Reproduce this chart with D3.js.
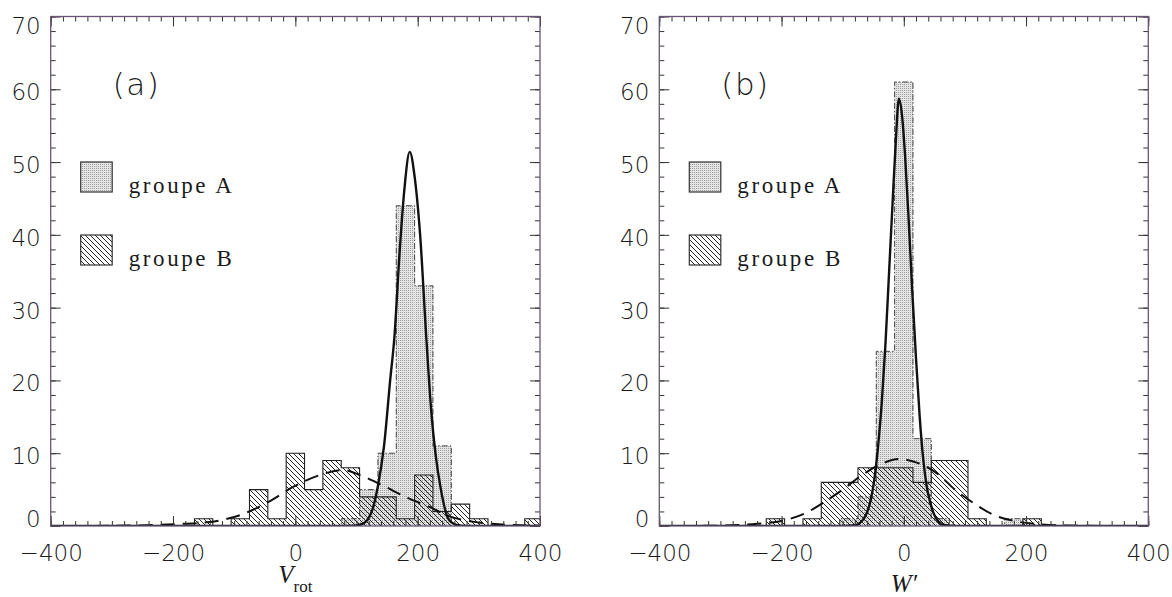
<!DOCTYPE html>
<html><head><meta charset="utf-8">
<script src="https://cdn.jsdelivr.net/npm/d3@7"></script>
<style>
html,body{margin:0;padding:0;background:#fff;}
svg{display:block;}
</style></head><body>
<svg id="chart" width="1172" height="597"></svg>
<script>
// ---------- DATA ----------
const binCenters = [-390,-360,-330,-300,-270,-240,-210,-180,-150,-120,-90,-60,-30,0,30,60,90,120,150,180,210,240,270,300,330,360,390];
const binWidth = 30;
// panel (a) V_rot
const vrotGroupA = [0,0,0,0,0,0,0,0,0,0,0,0,0,0,0,0,1,5,10,44,33,11,0,0,0,0,0];
const vrotGroupB = [0,0,0,0,0,0,0,0,1,0,1,5,1,10,5,9,8,4,4,1,7,2,3,1,0,0,1];
// panel (b) W'
const wGroupA = [0,0,0,0,0,0,0,0,0,0,1,4,24,61,12,1,0,0,0,1,0,0,0,0,0,0,0];
const wGroupB = [0,0,0,0,0,0,1,0,1,6,6,8,8,8,6,9,9,1,0,0,1,0,0,0,0,0,0];
// fitted curves
const vrotFitAx = [-400,90,110,125,135,145,155,162,170,178,187,195,204,214,222,229,238,250,262,280,400];
const vrotFitAy = [0,0,0.3,2,5.5,11,20,26,37,46,51.4,48,40,26,16,10,5,1,0.2,0,0];
const vrotFitBx = [-400,-300,-240,-190,-145,-90,-40,-3,40,78,108,142,180,220,250,290,340,400];
const vrotFitBy = [0,0.03,0.12,0.28,0.5,1.5,3.5,5.4,7.0,7.7,6.9,5.6,4.0,2.6,1.4,0.6,0.2,0.05];
const wFitAx = [-400,-95,-80,-72,-62,-54,-48,-42,-36,-30,-24,-18,-13,-8,-3,2,8,14,20,26,32,38,44,50,58,68,85,400];
const wFitAy = [0,0,0.1,0.4,1.5,3.6,6.5,11,17,25,35,45,53,58.7,56.5,51,42,32,23,15,9,5.2,3,1.5,0.5,0.1,0,0];
const wFitBx = [-400,-330,-280,-240,-200,-160,-130,-100,-70,-40,-8,25,55,85,115,145,180,220,260,320,400];
const wFitBy = [0,0.02,0.1,0.3,0.7,1.8,3.3,5.0,6.9,8.4,9.2,8.6,7.2,4.9,3.1,1.6,0.7,0.25,0.08,0.01,0];
// axes
const xDomain = [-400, 400];
const yDomain = [0, 70];
const xTicks = [-400,-200,0,200,400];
const yTicks = [0,10,20,30,40,50,60,70];
const legendLabels = ["groupe A", "groupe B"];
const panelLabels = ["(a)", "(b)"];

// ---------- DRAW ----------
const svg = d3.select("#chart");
const defs = svg.append("defs");
const st = defs.append("pattern").attr("id","stipple").attr("patternUnits","userSpaceOnUse")
  .attr("width",2).attr("height",2);
st.append("rect").attr("width",2).attr("height",2).attr("fill","#e4e4e4");
st.append("rect").attr("width",1).attr("height",1).attr("fill","#a0a0a0");
const ht = defs.append("pattern").attr("id","hatch").attr("patternUnits","userSpaceOnUse")
  .attr("width",5).attr("height",5);
ht.append("path").attr("d","M-1,-1 L6,6 M-1,4 L1,6 M4,-1 L6,1")
  .attr("stroke","#1a1a1a").attr("stroke-width",0.95).attr("fill","none");

const plotTop = 16.5, plotBottom = 526;
const panels = [
  {left:50.7, right:540, A:vrotGroupA, B:vrotGroupB, fAx:vrotFitAx, fAy:vrotFitAy, fBx:vrotFitBx, fBy:vrotFitBy, label:panelLabels[0]},
  {left:659.3, right:1148.3, A:wGroupA, B:wGroupB, fAx:wFitAx, fAy:wFitAy, fBx:wFitBx, fBy:wFitBy, label:panelLabels[1]}
];

const tickFont = "'DejaVu Sans', sans-serif";

panels.forEach((p, pi) => {
  const x = d3.scaleLinear().domain(xDomain).range([p.left, p.right]);
  const y = d3.scaleLinear().domain(yDomain).range([plotBottom, plotTop]);
  const g = svg.append("g");
  const clipId = "clip" + pi;
  defs.append("clipPath").attr("id", clipId).append("rect")
    .attr("x", p.left).attr("y", plotTop).attr("width", p.right - p.left).attr("height", plotBottom - plotTop);
  const plot = g.append("g").attr("clip-path", `url(#${clipId})`);

  const bins = arr => binCenters.map((c, i) => ({c, v: arr[i]}));
  const stepPts = arr => {
    const pts = [[binCenters[0] - binWidth/2, 0]];
    bins(arr).forEach(b => { pts.push([b.c - binWidth/2, b.v]); pts.push([b.c + binWidth/2, b.v]); });
    pts.push([binCenters[binCenters.length-1] + binWidth/2, 0]);
    return pts;
  };
  const line = d3.line().x(d => x(d[0])).y(d => y(d[1]));

  // group A fill + outline
  plot.selectAll("rect.a").data(bins(p.A).filter(b => b.v > 0)).join("rect").attr("class","a")
    .attr("x", b => x(b.c - binWidth/2)).attr("width", b => x(b.c + binWidth/2) - x(b.c - binWidth/2))
    .attr("y", b => y(b.v)).attr("height", b => y(0) - y(b.v)).attr("fill","url(#stipple)");
  plot.append("path").attr("d", line(stepPts(p.A))).attr("fill","none")
    .attr("stroke","#444").attr("stroke-width",1).attr("stroke-dasharray","6,2,1.5,2");
  // group B fill + outline
  plot.selectAll("rect.b").data(bins(p.B).filter(b => b.v > 0)).join("rect").attr("class","b")
    .attr("x", b => x(b.c - binWidth/2)).attr("width", b => x(b.c + binWidth/2) - x(b.c - binWidth/2))
    .attr("y", b => y(b.v)).attr("height", b => y(0) - y(b.v)).attr("fill","url(#hatch)");
  plot.append("path").attr("d", line(stepPts(p.B))).attr("fill","none")
    .attr("stroke","#222").attr("stroke-width",1.1);

  // fitted curves
  const curve = d3.line().x(d => x(d[0])).y(d => y(d[1])).curve(d3.curveMonotoneX);
  plot.append("path").attr("d", curve(p.fBx.map((v,i)=>[v,p.fBy[i]]))).attr("fill","none")
    .attr("stroke","#111").attr("stroke-width",2).attr("stroke-dasharray","14,8");
  plot.append("path").attr("d", curve(p.fAx.map((v,i)=>[v,p.fAy[i]]))).attr("fill","none")
    .attr("stroke","#111").attr("stroke-width",2.4);

  // axes / ticks (inward)
  const minorX = d3.range(xDomain[0], xDomain[1] + 1, 20);
  const minorY = d3.range(yDomain[0], yDomain[1] + 1, 2);
  const mk = (axis, tr) => {
    const a = g.append("g").attr("transform", tr).call(axis);
    a.select(".domain").remove();
    a.selectAll("line").attr("stroke","#333").attr("stroke-width",1);
    return a;
  };
  mk(d3.axisBottom(x).tickValues(minorX).tickSize(-5).tickFormat(""), `translate(0,${plotBottom})`);
  mk(d3.axisTop(x).tickValues(minorX).tickSize(-5).tickFormat(""), `translate(0,${plotTop})`);
  mk(d3.axisLeft(y).tickValues(minorY).tickSize(-5).tickFormat(""), `translate(${p.left},0)`);
  mk(d3.axisRight(y).tickValues(minorY).tickSize(-5).tickFormat(""), `translate(${p.right},0)`);
  mk(d3.axisTop(x).tickValues(xTicks).tickSize(-10).tickFormat(""), `translate(0,${plotTop})`);
  mk(d3.axisRight(y).tickValues(yTicks).tickSize(-10).tickFormat(""), `translate(${p.right},0)`);
  const bx = mk(d3.axisBottom(x).tickValues(xTicks).tickSize(-10).tickPadding(19), `translate(0,${plotBottom})`);
  const ly = mk(d3.axisLeft(y).tickValues(yTicks).tickSize(-10).tickPadding(10), `translate(${p.left},0)`);
  [bx, ly].forEach(a => a.selectAll("text").attr("font-family", tickFont).attr("font-size", 23)
    .attr("font-weight", 200).attr("fill","#1a1a1a"));
  ly.selectAll("text").attr("y", d => d === yDomain[0] ? -7 : (d === yDomain[1] ? 10 : 3));

  // frame
  g.append("rect").attr("x", p.left).attr("y", plotTop).attr("width", p.right - p.left).attr("height", plotBottom - plotTop)
    .attr("fill","none").attr("stroke","#6a5577").attr("stroke-width",1.3);

  // legend
  const legFills = ["url(#stipple)", "url(#hatch)"];
  [0,1].forEach(k => {
    const by = 162 + k * 73;
    g.append("rect").attr("x", p.left + 30).attr("y", by).attr("width", 31.5).attr("height", 30)
      .attr("fill", legFills[k]).attr("stroke","#333").attr("stroke-width",1.2);
    g.append("text").attr("x", p.left + 78).attr("y", by + 31).text(legendLabels[k])
      .attr("font-family","'Liberation Serif', serif").attr("font-size",23)
      .attr("letter-spacing","2.6px").attr("fill","#1a1a1a");
  });

  // panel label
  g.append("text").attr("x", p.left + 62).attr("y", 94.5).text(p.label)
    .attr("font-family", tickFont).attr("font-size", 31).attr("font-weight", 200)
    .attr("letter-spacing","1.5px").attr("fill","#1a1a1a");

  // axis title
  const t = g.append("text").attr("x", x(0)).attr("text-anchor","middle")
    .attr("font-family","'Liberation Serif', serif").attr("fill","#1a1a1a");
  if (pi === 0) {
    t.attr("y", 583);
    t.append("tspan").attr("font-style","italic").attr("font-size",25).text("V");
    t.append("tspan").attr("font-size",17).attr("dy",9).text("rot");
  } else {
    t.attr("y", 592);
    t.append("tspan").attr("font-style","italic").attr("font-size",25).text("W′");
  }
});
</script>
</body></html>
